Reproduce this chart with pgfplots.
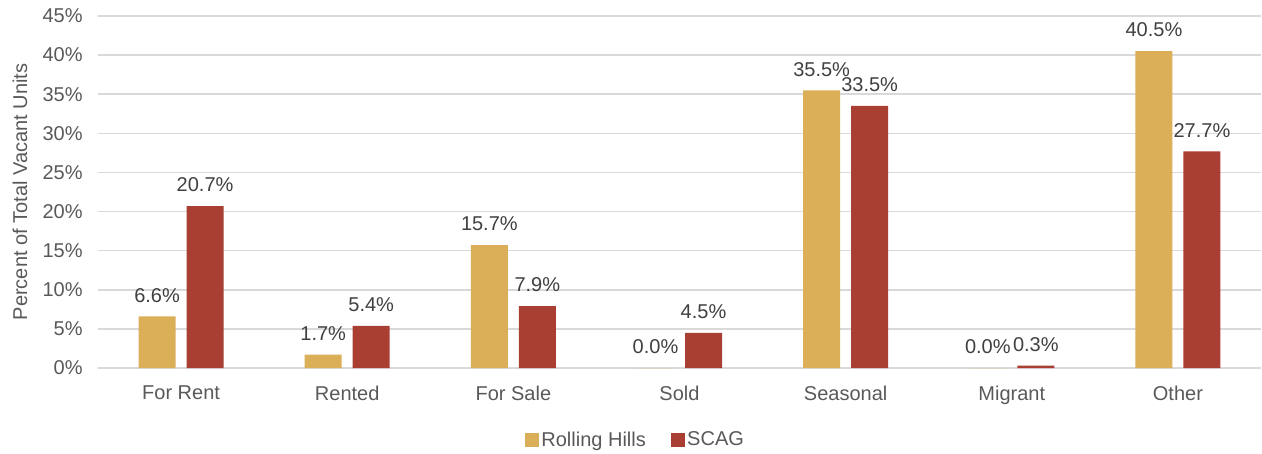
\documentclass[border=0pt]{standalone}
\usepackage{pgfplots}
\pgfplotsset{compat=1.18}
\usepackage{fontspec}
\setmainfont{Liberation Sans}
\definecolor{hills}{HTML}{DBAE58}
\definecolor{scag}{HTML}{A93E33}
\definecolor{gridgray}{HTML}{D9D9D9}
\definecolor{ticktext}{HTML}{595959}
\definecolor{labeltext}{HTML}{404040}
\begin{document}
\begin{tikzpicture}
\begin{axis}[
    scale only axis,
    width=872.25pt, height=264pt,
    ybar=8.25pt, bar width=27.75pt,
    xmin=-0.5, xmax=6.5,
    ymin=0, ymax=45, ytick distance=5,
    xtick=data,
    xticklabels={For Rent, Rented, For Sale, Sold, Seasonal, Migrant, Other},
    yticklabel={\pgfmathprintnumber{\tick}\%},
    /pgf/number format/assume math mode=true,
    axis line style={draw=none},
    major tick length=0pt,
    ymajorgrids=true,
    grid style={gridgray, line width=1.2pt},
    tick label style={font=\fontsize{15pt}{18pt}\selectfont, text=ticktext},
    yticklabel style={xshift=-8pt},
    xticklabel style={yshift=-10pt},
    ylabel={Percent of Total Vacant Units},
    every axis y label/.style={at={(rel axis cs:0,0.5)}, xshift=-58.5pt, rotate=90,
        anchor=center, font=\fontsize{15pt}{18pt}\selectfont, text=ticktext},
    nodes near coords={\pgfmathprintnumber[fixed,fixed zerofill,precision=1]{\pgfplotspointmeta}\%},
    every node near coord/.append style={font=\fontsize{15pt}{18pt}\selectfont, text=labeltext, yshift=7pt},
    legend style={at={(rel axis cs:0.4626,-0.2045)}, anchor=center, draw=none,
        legend columns=-1, font=\fontsize{15pt}{18pt}\selectfont, text=ticktext,
        /tikz/every odd column/.append style={column sep=0pt},
        /tikz/every even column/.append style={column sep=17pt}},
    legend image code/.code={\fill[#1] (0pt,-5pt) rectangle (10pt,5pt);},
]
\addplot[fill=hills, draw=none] coordinates {
    (0,6.6) (1,1.7) (2,15.7) (3,0.0) (4,35.5) (5,0.0) (6,40.5)
};
\addplot[fill=scag, draw=none] coordinates {
    (0,20.7) (1,5.4) (2,7.9) (3,4.5) (4,33.5) (5,0.3) (6,27.7)
};
\legend{Rolling Hills, SCAG}
\coordinate (bl) at (rel axis cs:0,0);
\end{axis}
\pgfresetboundingbox
\path (bl) ++(-73.5pt,-63.75pt) rectangle ++(946.5pt,339.75pt);
\end{tikzpicture}
\end{document}
